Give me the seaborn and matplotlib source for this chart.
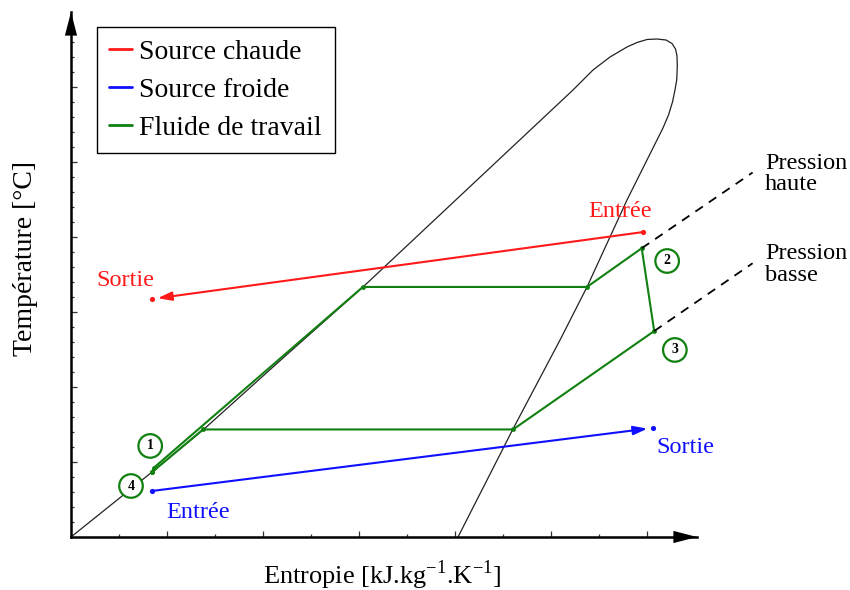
import numpy as np
import pandas as pd
import matplotlib
matplotlib.use("Agg")
import matplotlib.pyplot as plt
import seaborn as sns
from matplotlib.lines import Line2D

# --- Configuration ---
sns.set_theme(style="white")
plt.rcParams['font.family'] = ['Liberation Serif', 'DejaVu Serif']
plt.rcParams['mathtext.fontset'] = 'custom'
plt.rcParams['mathtext.rm'] = 'Liberation Serif'
plt.rcParams['text.color'] = 'black'
plt.rcParams['axes.labelcolor'] = 'black'

# --- Data (arbitrary units) ---
# saturation dome
dome_s = [0.0, 1.688, 2.75, 4.417, 6.083, 8.313, 10.458, 10.875, 11.229, 11.583,
          11.792, 12.0, 12.208, 12.396, 12.521, 12.594, 12.625, 12.631, 12.619,
          12.583, 12.531, 12.448, 12.333, 12.208, 11.583, 10.75, 10.188, 9.208, 8.063]
dome_t = [0.0, 4.333, 7.133, 11.933, 16.667, 23.36, 29.8, 31.133, 32.0, 32.667,
          32.967, 33.167, 33.2, 33.133, 32.9, 32.533, 32.067, 31.353, 30.467,
          29.8, 29.0, 28.133, 27.267, 26.467, 22.467, 16.667, 13.133, 7.2, 0.0]

# working fluid cycle: 4 -> 1 -> liq HP -> vap HP -> 2 -> 3 -> vap LP -> liq LP -> 4
cycle_s = [1.69, 1.73, 6.08, 10.75, 11.89, 12.15, 9.21, 2.75, 1.69]
cycle_t = [4.33, 4.63, 16.67, 16.67, 19.25, 13.73, 7.17, 7.17, 4.33]

# hot source (entrée -> sortie) and cold source (entrée -> sortie)
hot_s = [11.92, 1.69]
hot_t = [20.33, 15.87]
cold_s = [1.69, 12.125]
cold_t = [3.07, 7.27]

# isobar extensions beyond points 2 and 3
iso_hp_s = [11.89, 14.20]
iso_hp_t = [19.25, 24.30]
iso_lp_s = [12.15, 14.20]
iso_lp_t = [13.73, 18.25]

# circled state numbers
state_labels = ['1', '2', '3', '4']
state_s = [1.65, 12.42, 12.58, 1.25]
state_t = [6.07, 18.40, 12.47, 3.40]

RED = '#ff1a1a'
BLUE = '#1010ff'
GREEN = '#108010'

fig = plt.figure(figsize=(8.5, 5.9), dpi=100)
ax = fig.add_axes([71 / 850, 53 / 590, 626 / 850, 525 / 590])
ax.set_xlim(0, 626 / 48)
ax.set_ylim(0, 35)

# dome
dome_df = pd.DataFrame({'s': dome_s, 't': dome_t})
sns.lineplot(data=dome_df, x='s', y='t', sort=False, color='#222222',
             linewidth=0.9, ax=ax, estimator=None)

# cycle
cycle_df = pd.DataFrame({'s': cycle_s, 't': cycle_t})
sns.lineplot(data=cycle_df, x='s', y='t', sort=False, color=GREEN,
             linewidth=1.5, marker='o', markersize=3.5, markeredgewidth=0,
             ax=ax, estimator=None)

# isobars
for xs, ys in [(iso_hp_s, iso_hp_t), (iso_lp_s, iso_lp_t)]:
    ax.plot(xs, ys, color='black', linewidth=1.3, linestyle=(0, (5, 4)),
            clip_on=False)

# sources with arrows
for xs, ys, col in [(hot_s, hot_t, RED), (cold_s, cold_t, BLUE)]:
    ax.annotate('', xy=(xs[1], ys[1]), xytext=(xs[0], ys[0]),
                arrowprops=dict(arrowstyle='-|>,head_length=0.7,head_width=0.22',
                                color=col, lw=1.5, shrinkA=0, shrinkB=4,
                                mutation_scale=12))
    sns.scatterplot(x=xs, y=ys, color=col, s=14, linewidth=0, ax=ax)

# text labels
ax.text(11.44, 21.67, 'Entrée', color=RED, fontsize=17.5, ha='center', va='center')
ax.text(1.125, 17.1, 'Sortie', color=RED, fontsize=17.5, ha='center', va='center')
ax.text(12.79, 5.95, 'Sortie', color=BLUE, fontsize=17.5, ha='center', va='center')
ax.text(2.65, 1.6, 'Entrée', color=BLUE, fontsize=17.5, ha='center', va='center')
ax.text(14.46, 24.2, 'Pression\nhaute', color='black', fontsize=17.5,
        ha='left', va='center', linespacing=1.05, clip_on=False)
ax.text(14.46, 18.15, 'Pression\nbasse', color='black', fontsize=17.5,
        ha='left', va='center', linespacing=1.05, clip_on=False)

for lab, xs, ys in zip(state_labels, state_s, state_t):
    ax.text(xs, ys, lab, fontsize=10, fontweight='bold', ha='center', va='center',
            bbox=dict(boxstyle='circle,pad=0.38', fc='white', ec=GREEN, lw=1.6))

# axes: arrows, ticks, no labels on ticks
for side in ['top', 'right']:
    ax.spines[side].set_visible(False)
for side in ['left', 'bottom']:
    ax.spines[side].set_color('black')
    ax.spines[side].set_linewidth(1.8)
arrow_kw = dict(arrowstyle='-|>,head_length=0.85,head_width=0.22', color='black',
                lw=0, mutation_scale=20, shrinkA=0, shrinkB=0)
ax.annotate('', xy=(1.0, 0), xytext=(0.96, 0), xycoords='axes fraction',
            arrowprops=arrow_kw, annotation_clip=False)
ax.annotate('', xy=(0, 1.0), xytext=(0, 0.96), xycoords='axes fraction',
            arrowprops=arrow_kw, annotation_clip=False)

ax.set_xticks(np.arange(2, 13, 2))
ax.set_xticks(np.arange(1, 13, 1), minor=True)
ax.set_yticks(np.arange(5, 34, 5))
ax.set_yticks(np.arange(1, 34, 1), minor=True)
ax.tick_params(which='both', direction='in', labelbottom=False, labelleft=False,
               color='#333333', width=0.9, bottom=True, left=True)
ax.tick_params(which='major', length=4)
ax.tick_params(which='minor', length=2.5)

ax.set_xlabel('Entropie [kJ.kg$^{\\mathregular{-1}}$.K$^{\\mathregular{-1}}$]',
              fontsize=19)
ax.xaxis.set_label_coords(0.497, -0.04)
ax.set_ylabel('Température [°C]', fontsize=20)
ax.yaxis.set_label_coords(-0.053, 0.531)

handles = [Line2D([], [], color=RED, lw=2),
           Line2D([], [], color=BLUE, lw=2),
           Line2D([], [], color=GREEN, lw=2)]
leg = ax.legend(handles, ['Source chaude', 'Source froide', 'Fluide de travail'],
                loc='upper left', bbox_to_anchor=(0.0415, 0.971), borderaxespad=0,
                fontsize=20, fancybox=False, framealpha=1, edgecolor='black',
                handlelength=0.8, handletextpad=0.28, labelspacing=0.44,
                borderpad=0.45, labelcolor='black')
leg.get_frame().set_linewidth(1.0)

fig.savefig('out.png', dpi=100)
